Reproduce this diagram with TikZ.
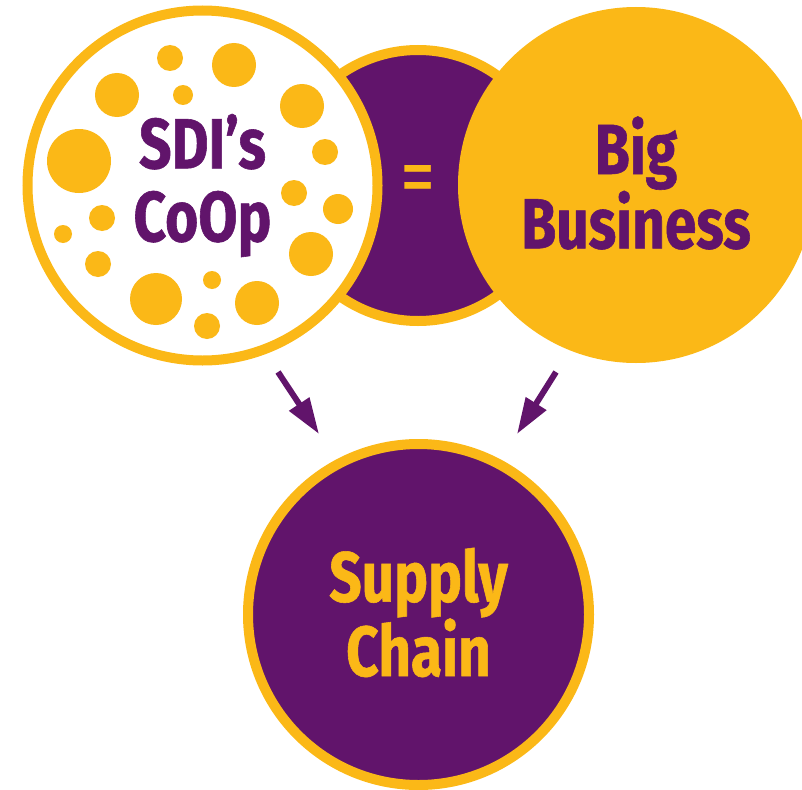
\documentclass[tikz,border=0pt]{standalone}
\usepackage{fontspec}
\newfontfamily\labelfont{Fira Sans}[FakeStretch=0.8,BoldFeatures={FakeBold=0.8}]
\usepackage{tikz}
\usetikzlibrary{arrows.meta}
\definecolor{coopPurple}{HTML}{61146B}
\definecolor{coopYellow}{HTML}{FBB817}
\tikzset{
  bubble/.style={
    circle,
    inner sep=0pt,
    line width=10pt,
    draw=coopYellow,
  },
  plain bubble/.style={
    bubble,
    fill=white,
  },
  dark bubble/.style={
    bubble,
    fill=coopPurple,
  },
  bright bubble/.style={
    circle,
    inner sep=0pt,
    draw=none,
    fill=coopYellow,
  },
  label/.style={
    font=\labelfont\bfseries\fontsize{71}{73}\selectfont,
    align=center,
    inner sep=0pt,
  },
  sign/.style={
    font=\labelfont\fontsize{88}{88}\selectfont,
    inner sep=0pt,
  },
  dot/.style={
    fill=coopYellow,
  },
  flow/.style={
    draw=coopPurple,
    line width=6pt,
    -{Triangle[width=23pt,length=36pt]},
  },
}

\begin{document}
\begin{tikzpicture}[x=1pt,y=-1pt]
  \useasboundingbox (0,0) rectangle (802,789);
  % middle part sits behind the two big circles
  \node[dark bubble,minimum size=271pt] (same) at (418,185.5) {};
  \node[plain bubble,minimum size=350pt] (coop) at (202.5,185.5) {};
  \node[bright bubble,minimum size=356pt] (big) at (636,185) {};
  \node[dark bubble,minimum size=341pt] (chain) at (418.5,614.5) {};

  % dots in the coop circle
  \foreach \x/\y/\r in {170/58/13, 234/65/22, 117/95/22, 183/95/10,
      302/106/22, 79/161/32, 325/152/13, 294/193/13, 338/209/15,
      102/218/13, 63/234/9, 311/254/22, 98/264/13, 156/299/26,
      212/280/9, 257/303/22, 207/326/13}
    \fill[dot] (\x,\y) circle (\r);

  \node[label,text=coopPurple] (coopText) at (coop) {SDI’s\\CoOp};
  \node[sign,text=coopYellow] (sameText) at (same) {=};
  \node[label,text=coopPurple,yshift=2pt] (bigText) at (big) {Big\\Business};
  \node[label,text=coopYellow,yshift=2pt] (chainText) at (chain) {Supply\\Chain};

  \coordinate (coopOut) at (278,372);
  \coordinate (coopIn) at (319,434);
  \coordinate (bigOut) at (556,372);
  \coordinate (bigIn) at (517,434);
  \draw[flow] (coopOut) -- (coopIn);
  \draw[flow] (bigOut) -- (bigIn);
\end{tikzpicture}
\end{document}
